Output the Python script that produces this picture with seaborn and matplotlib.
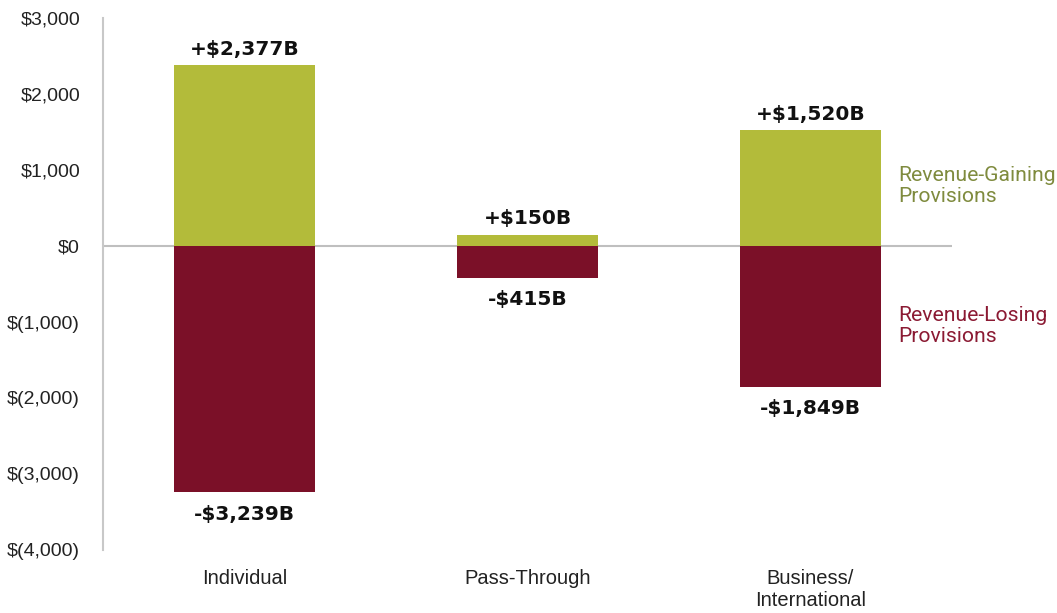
import matplotlib
matplotlib.use("Agg")
import matplotlib.pyplot as plt
import seaborn as sns
import pandas as pd

categories = ["Individual", "Pass-Through", "Business/\nInternational"]
gaining = [2377, 150, 1520]
losing = [-3239, -415, -1849]
y_ticks = [3000, 2000, 1000, 0, -1000, -2000, -3000, -4000]

GREEN = "#B3BB3A"
MAROON = "#7B1028"
GREEN_TXT = "#7F8B3E"
MAROON_TXT = "#8B1A33"

sns.set_theme(style="white")
plt.rcParams["font.family"] = ["Liberation Sans", "DejaVu Sans"]

df = pd.DataFrame({"category": categories, "gaining": gaining, "losing": losing})

fig = plt.figure(figsize=(10.57, 6.13), dpi=100)
ax = fig.add_axes([0.0974, 0.1028, 0.8033, 0.8678])

sns.barplot(data=df, x="category", y="gaining", color=GREEN, width=0.5,
            saturation=1, linewidth=0, ax=ax, order=categories)
sns.barplot(data=df, x="category", y="losing", color=MAROON, width=0.5,
            saturation=1, linewidth=0, ax=ax, order=categories)

ax.set_xlim(-0.5, 2.5)
ax.set_ylim(-4000, 3000)
ax.axhline(0, color="#BFBFBF", lw=1.5, zorder=0.5)

def money(v):
    return f"${v:,.0f}" if v >= 0 else f"$({abs(v):,.0f})"

ax.set_yticks(y_ticks)
ax.set_yticklabels([money(v) for v in y_ticks], fontsize=14, color="#222222")
ax.tick_params(axis="y", length=0, pad=16.5)
ax.tick_params(axis="x", length=0, pad=14, labelsize=14.5, labelcolor="#222222")
ax.set_xlabel("")
ax.set_ylabel("")

for side in ["top", "right", "bottom"]:
    ax.spines[side].set_visible(False)
ax.spines["left"].set_color("#C8C8C8")
ax.spines["left"].set_linewidth(1.5)

for i, (g, l) in enumerate(zip(gaining, losing)):
    ax.text(i, g + 90, f"+${g:,}B", ha="center", va="bottom", fontsize=14.5,
            fontweight="bold", color="#111111", family=["DejaVu Sans"])
    ax.text(i, l - 170, f"-${abs(l):,}B", ha="center", va="top", fontsize=14.5,
            fontweight="bold", color="#111111", family=["DejaVu Sans"])

ax.text(2.31, 790, "Revenue-Gaining\nProvisions", ha="left", va="center",
        fontsize=15.2, color=GREEN_TXT, family=["Roboto", "DejaVu Sans"],
        linespacing=1.15, clip_on=False)
ax.text(2.31, -1050, "Revenue-Losing\nProvisions", ha="left", va="center",
        fontsize=15.2, color=MAROON_TXT, family=["Roboto", "DejaVu Sans"],
        linespacing=1.15, clip_on=False)

fig.savefig("out.png", dpi=100)
